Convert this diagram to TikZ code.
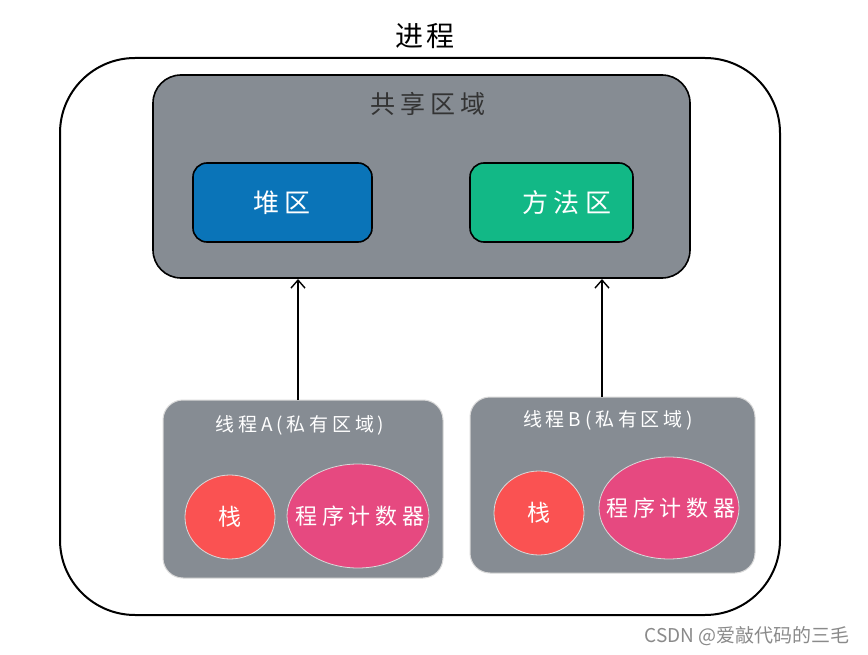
\documentclass[tikz,border=0pt]{standalone}
\usepackage{fontspec}
\newfontfamily\cjk{Noto Sans CJK SC}
\usetikzlibrary{arrows.meta,shapes.geometric}
\definecolor{boxgray}{HTML}{868C93}
\definecolor{heapblue}{HTML}{0A74B8}
\definecolor{methgreen}{HTML}{12B886}
\definecolor{stackred}{HTML}{FA5252}
\definecolor{pcpink}{HTML}{E64980}
\definecolor{wmgray}{HTML}{8A8A8A}
\begin{document}
\begin{tikzpicture}[x=1pt,y=-1pt,
  outerbox/.style={draw=black,line width=2pt,rounded corners=75pt},
  sharedbox/.style={draw=black,line width=1.6pt,fill=boxgray,rounded corners=28pt},
  areabox/.style={draw=black,line width=1.6pt,rounded corners=14pt},
  threadbox/.style={draw=white!85!black,line width=1pt,fill=boxgray,rounded corners=20pt},
  blob/.style={ellipse,draw=white!85!black,line width=0.8pt,inner sep=0pt},
  lbl/.style 2 args={font=\cjk\fontsize{#1}{#1}\selectfont\addfontfeatures{LetterSpace=#2}},
  conn/.style={draw=black,line width=1.4pt,-{Straight Barb[length=8pt,width=14pt,line width=1.4pt]}}
]
\useasboundingbox (0,0) rectangle (868,655);
\fill[white] (0,0) rectangle (868,655);

% process box
\draw[outerbox] (60,58) rectangle (780,615);
\node[lbl={28}{8},text=black] (title) at (425,36) {进程};

% shared region
\draw[sharedbox] (153,75) rectangle (690,278);
\coordinate (sharedA) at (298,279);
\coordinate (sharedB) at (602,279);
\node[lbl={25}{20},text=black!80] (sharedlbl) at (428,104) {共享区域};

\draw[areabox,fill=heapblue] (193,163) rectangle (372,242);
\node[lbl={26}{20},text=white] (heap) at (282,203) {堆区};
\draw[areabox,fill=methgreen] (470,163) rectangle (633,242);
\node[lbl={26}{20},text=white] (method) at (567,203) {方法区};

% thread A
\draw[threadbox] (163,400) rectangle (443,578);
\node[lbl={19}{20},text=white] (thA) at (300,425) {线程A(私有区域)};
\node[blob,fill=stackred,minimum width=90pt,minimum height=84pt] (stackA) at (230,517) {};
\node[lbl={23}{0},text=white] at (stackA) {栈};
\node[blob,fill=pcpink,minimum width=142pt,minimum height=104pt] (pcA) at (358,516) {};
\node[lbl={22}{22},text=white] at ([xshift=2pt]pcA.center) {程序计数器};

% thread B
\draw[threadbox] (470,397) rectangle (755,573);
\node[lbl={19}{20},text=white] (thB) at (608,420) {线程B(私有区域)};
\node[blob,fill=stackred,minimum width=90pt,minimum height=84pt] (stackB) at (539,513) {};
\node[lbl={23}{0},text=white] at (stackB) {栈};
\node[blob,fill=pcpink,minimum width=140pt,minimum height=102pt] (pcB) at (669,508) {};
\node[lbl={22}{22},text=white] at ([xshift=2pt]pcB.center) {程序计数器};

% arrows
\coordinate (fromA) at (298,400);
\coordinate (fromB) at (602,397);
\draw[conn] (fromA) -- (sharedA);
\draw[conn] (fromB) -- (sharedB);

% watermark
\node[lbl={19}{0},text=wmgray,anchor=east] (wm) at (853,636) {CSDN @爱敲代码的三毛};
\end{tikzpicture}
\end{document}
